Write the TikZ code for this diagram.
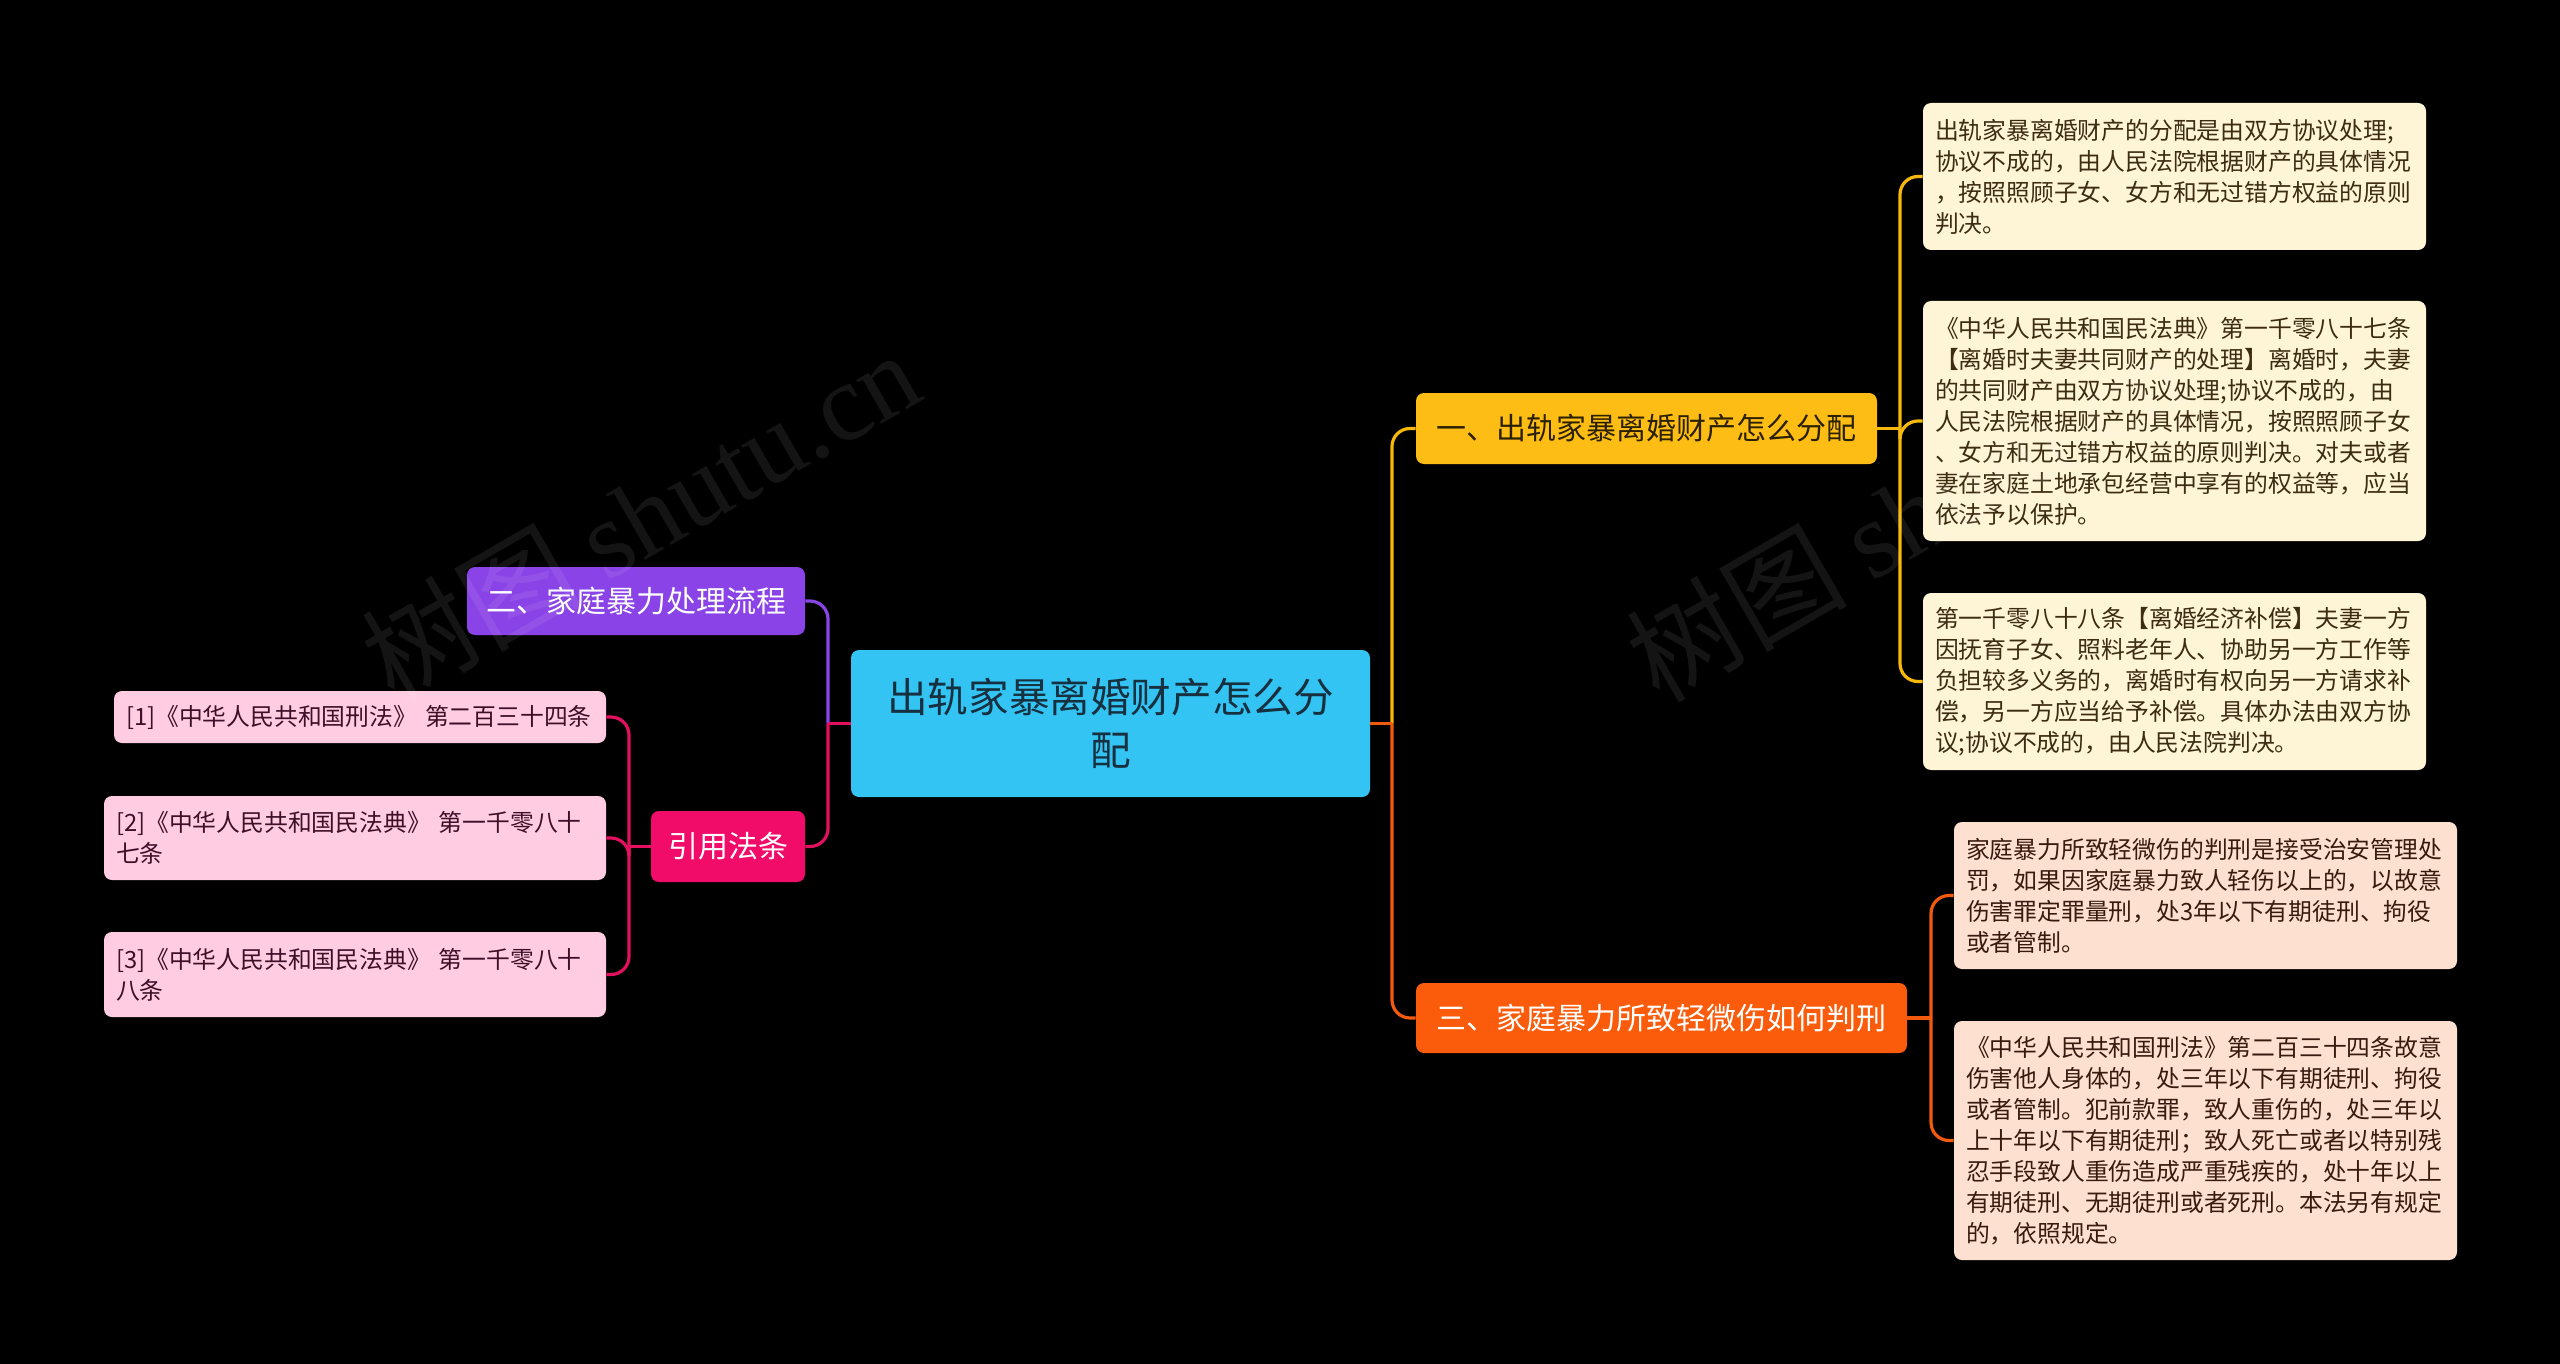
\documentclass[tikz,border=0pt]{standalone}
\usepackage{fontspec}
\setmainfont{Noto Sans CJK SC}
\newfontfamily\wmlat{Liberation Serif}
\definecolor{rootfill}{HTML}{33C4F4}
\definecolor{roottext}{HTML}{17303F}
\definecolor{yelfill}{HTML}{FDBD14}
\definecolor{yeltext}{HTML}{2B2100}
\definecolor{orafill}{HTML}{FA5C0C}
\definecolor{purfill}{HTML}{8A43E6}
\definecolor{citefill}{HTML}{F20C6A}
\definecolor{lyfill}{HTML}{FEF4D6}
\definecolor{lytext}{HTML}{3C2C12}
\definecolor{lofill}{HTML}{FDE0D0}
\definecolor{lotext}{HTML}{3A1A0E}
\definecolor{lpfill}{HTML}{FFCCE2}
\definecolor{lptext}{HTML}{3D1028}
\definecolor{lnyel}{HTML}{F7B80C}
\definecolor{lnora}{HTML}{F25A0D}
\definecolor{lnpur}{HTML}{8A45E6}
\definecolor{lnpink}{HTML}{E3105F}
\tikzset{
  box/.style={rounded corners=4pt, inner sep=0pt, align=center},
  rootbox/.style={box, fill=rootfill, text=roottext, font=\fontsize{20.3pt}{26.5pt}\selectfont},
  branch/.style={box, font=\fontsize{15pt}{19pt}\selectfont},
  leaf/.style={rounded corners=4pt, inner xsep=6pt, inner ysep=2pt, align=left,
    font=\fontsize{11.9pt}{15.5pt}\selectfont},
  lyel/.style={leaf, fill=lyfill, text=lytext, text width=239.5pt},
  lora/.style={leaf, fill=lofill, text=lotext, text width=239.5pt},
  lpink/.style={leaf, fill=lpfill, text=lptext},
  conn/.style={line width=1.6pt},
  rc/.style={rounded corners=9pt},
  wm/.style={rotate=30, text=white, text opacity=0.08, inner sep=0pt,
    font=\fontsize{55pt}{60pt}\selectfont}
}
\begin{document}
\begin{tikzpicture}[x=0.5pt,y=-0.5pt]
\useasboundingbox (0,0) rectangle (2560,1364);
\fill[black] (0,0) rectangle (2560,1364);

% root
\node[rootbox, minimum width=259.5pt, minimum height=73.5pt] (root) at (1110.5,723.5)
  {出轨家暴离婚财产怎么分\\配};

% branches
\node[branch, fill=yelfill, text=yeltext, minimum width=230.5pt, minimum height=35.5pt] (yel) at (1646.5,428.5)
  {一、出轨家暴离婚财产怎么分配};
\node[branch, fill=orafill, text=white, minimum width=245.5pt, minimum height=35pt] (ora) at (1661.5,1018)
  {三、家庭暴力所致轻微伤如何判刑};
\node[branch, fill=purfill, text=white, minimum width=169pt, minimum height=34pt] (pur) at (636,601)
  {二、家庭暴力处理流程};
\node[branch, fill=citefill, text=white, minimum width=77pt, minimum height=35.5pt] (cite) at (728,846.5)
  {引用法条};

% yellow leaves
\node[lyel, minimum height=73.5pt] (l1) at (2174.5,176.5)
  {出轨家暴离婚财产的分配是由双方协议处理;\\
   协议不成的，由人民法院根据财产的具体情况\\
   ，按照照顾子女、女方和无过错方权益的原则\\
   判决。};
\node[lyel, minimum height=120pt] (l2) at (2174.5,421)
  {《中华人民共和国民法典》第一千零八十七条\\
   【离婚时夫妻共同财产的处理】离婚时，夫妻\\
   的共同财产由双方协议处理;协议不成的，由\\
   人民法院根据财产的具体情况，按照照顾子女\\
   、女方和无过错方权益的原则判决。对夫或者\\
   妻在家庭土地承包经营中享有的权益等，应当\\
   依法予以保护。};
\node[lyel, minimum height=88.5pt] (l3) at (2174.5,681.5)
  {第一千零八十八条【离婚经济补偿】夫妻一方\\
   因抚育子女、照料老年人、协助另一方工作等\\
   负担较多义务的，离婚时有权向另一方请求补\\
   偿，另一方应当给予补偿。具体办法由双方协\\
   议;协议不成的，由人民法院判决。};

% orange leaves
\node[lora, minimum height=73.5pt] (o1) at (2205.5,895.5)
  {家庭暴力所致轻微伤的判刑是接受治安管理处\\
   罚，如果因家庭暴力致人轻伤以上的，以故意\\
   伤害罪定罪量刑，处3年以下有期徒刑、拘役\\
   或者管制。};
\node[lora, minimum height=119.5pt] (o2) at (2205.5,1140.5)
  {《中华人民共和国刑法》第二百三十四条故意\\
   伤害他人身体的，处三年以下有期徒刑、拘役\\
   或者管制。犯前款罪，致人重伤的，处三年以\\
   上十年以下有期徒刑；致人死亡或者以特别残\\
   忍手段致人重伤造成严重残疾的，处十年以上\\
   有期徒刑、无期徒刑或者死刑。本法另有规定\\
   的，依照规定。};

% pink leaves
\node[lpink, text width=234pt, minimum height=26pt] (p1) at (360,717)
  {[1]《中华人民共和国刑法》 第二百三十四条};
\node[lpink, text width=239pt, minimum height=42pt] (p2) at (355,838)
  {[2]《中华人民共和国民法典》 第一千零八十\\七条};
\node[lpink, text width=239pt, minimum height=42.5pt] (p3) at (355,974.5)
  {[3]《中华人民共和国民法典》 第一千零八十\\八条};

% junction coordinates
\coordinate (jR) at (1392,723.5);
\coordinate (jL) at (828,723.5);
\coordinate (jY) at (1900,428.5);
\coordinate (jO) at (1931,1018);
\coordinate (jC) at (629,846.5);

% right trunk
\draw[conn, lnyel, rc] (jR) |- (yel.west);
\draw[conn, lnora, rc] (jR) |- (ora.west);
\draw[conn, lnora] (root.east) -- (jR);

% left trunk
\draw[conn, lnpur, rc] (jL) |- (pur.east);
\draw[conn, lnpink, rc] (jL) |- (cite.east);
\draw[conn, lnpink] (root.west) -- (jL);

% yellow leaves
\draw[conn, lnyel] (yel.east) -- (jY);
\draw[conn, lnyel, rc] (jY) |- (l1.west);
\draw[conn, lnyel, rc] (jY) |- (l2.west);
\draw[conn, lnyel, rc] (jY) |- (l3.west);

% orange leaves
\draw[conn, lnora] (ora.east) -- (jO);
\draw[conn, lnora, rc] (jO) |- (o1.west);
\draw[conn, lnora, rc] (jO) |- (o2.west);

% pink leaves
\draw[conn, lnpink] (cite.west) -- (jC);
\draw[conn, lnpink, rc] (jC) |- (p1.east);
\draw[conn, lnpink, rc] (jC) |- (p2.east);
\draw[conn, lnpink, rc] (jC) |- (p3.east);

% watermarks
\node[wm] (wm1) at (640,515) {树图 {\wmlat shutu.cn}};
\node[wm] (wm2) at (1905,515) {树图 {\wmlat shutu.cn}};
\end{tikzpicture}
\end{document}
